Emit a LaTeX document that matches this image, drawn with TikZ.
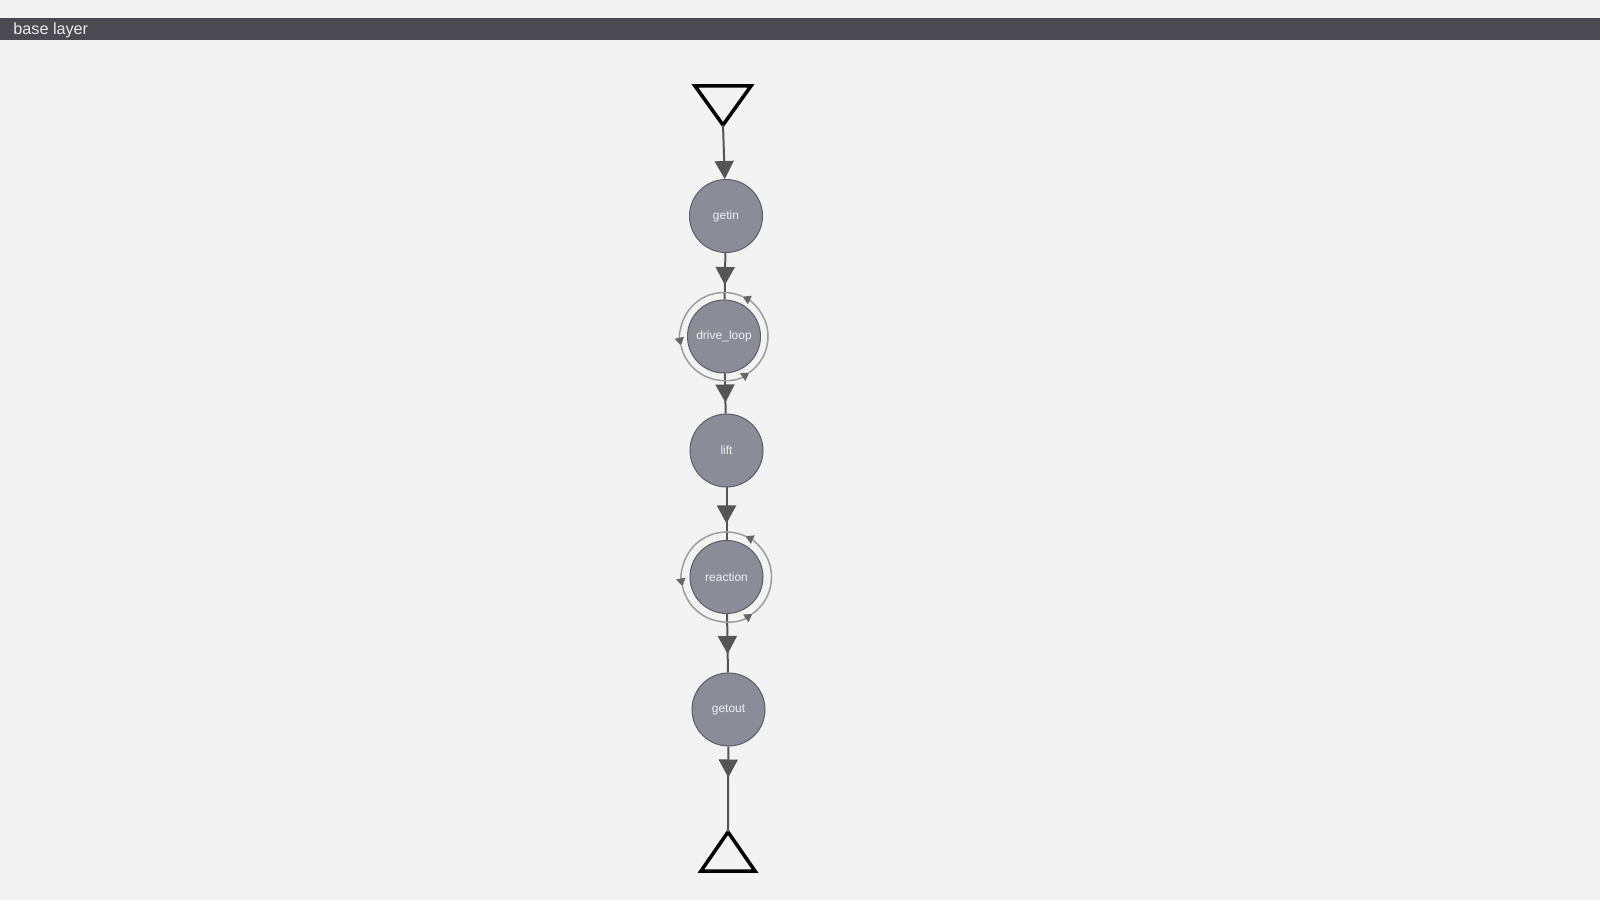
\documentclass[tikz,border=0pt]{standalone}
\usepackage{fontspec}
\setmainfont{Liberation Sans}
\usetikzlibrary{arrows.meta,decorations.markings}
\definecolor{bgc}{HTML}{F3F3F3}
\definecolor{barc}{HTML}{4B4A50}
\definecolor{nodefill}{HTML}{8A8D97}
\definecolor{nodeline}{HTML}{5C5C62}
\definecolor{edgec}{HTML}{555555}
\definecolor{ringc}{HTML}{9C9C9C}
\definecolor{ringarrow}{HTML}{666666}
\tikzset{
  state/.style={circle, draw=nodeline, line width=0.5pt, fill=nodefill, minimum size=36.5pt, inner sep=0pt, text=white!94!black, font=\fontsize{6}{7}\selectfont},
  edge/.style={draw=edgec, line width=1pt},
  bigtip/.style={-{Triangle[width=9.5pt,length=9pt]}},
  arrowat/.style={postaction={decorate}, decoration={markings, mark=at position #1 with {\arrow[edgec]{Triangle[width=9.5pt,length=9pt]}}}},
  ring/.style={draw=ringc, line width=0.75pt, -{Triangle[width=4.5pt,length=4pt,color=ringarrow]}},
  term/.style={draw=black, line width=1.75pt, line join=miter}
}
\begin{document}
\begin{tikzpicture}[x=0.5pt,y=0.5pt]
\useasboundingbox (0,0) rectangle (1600,900);
\fill[bgc] (0,0) rectangle (1600,900);
\fill[barc] (0,860) rectangle (1600,882);
\node[anchor=west, inner sep=0pt, text=white!92!black, font=\fontsize{8.1}{9}\selectfont] (title) at (13,869.5) {base layer};

% terminals
\draw[term] (695,814) -- (751,814) -- (723,775) -- cycle;
\coordinate (srcapex) at (723,775);
\draw[term] (701,29) -- (755,29) -- (728,68) -- cycle;
\coordinate (sinkapex) at (728,68);

% states
\node[state] (getin) at (726,684) {getin};
\node[state] (drive) at (724,563.5) {drive\_loop};
\node[state] (lift) at (726.5,449.5) {lift};
\node[state] (reaction) at (726.5,323) {reaction};
\node[state] (getout) at (728.5,190.5) {getout};

% edges
\draw[edge, bigtip] (srcapex) -- (getin);
\draw[edge, arrowat=16pt] (getin) -- (drive);
\draw[edge, arrowat=14.5pt] (drive) -- (lift);
\draw[edge, arrowat=18pt] (lift) -- (reaction);
\draw[edge, arrowat=20pt] (reaction) -- (getout);
\draw[edge, arrowat=15.5pt] (getout) -- (sinkapex);

% self loops
\foreach \n/\r in {drive/22pt, reaction/22.5pt}{
  \draw[ring] ([shift={(-55:\r)}]\n.center) arc[start angle=-55, end angle=65, radius=\r];
  \draw[ring] ([shift={(65:\r)}]\n.center) arc[start angle=65, end angle=192, radius=\r];
  \draw[ring] ([shift={(192:\r)}]\n.center) arc[start angle=192, end angle=305, radius=\r];
}
\end{tikzpicture}
\end{document}
